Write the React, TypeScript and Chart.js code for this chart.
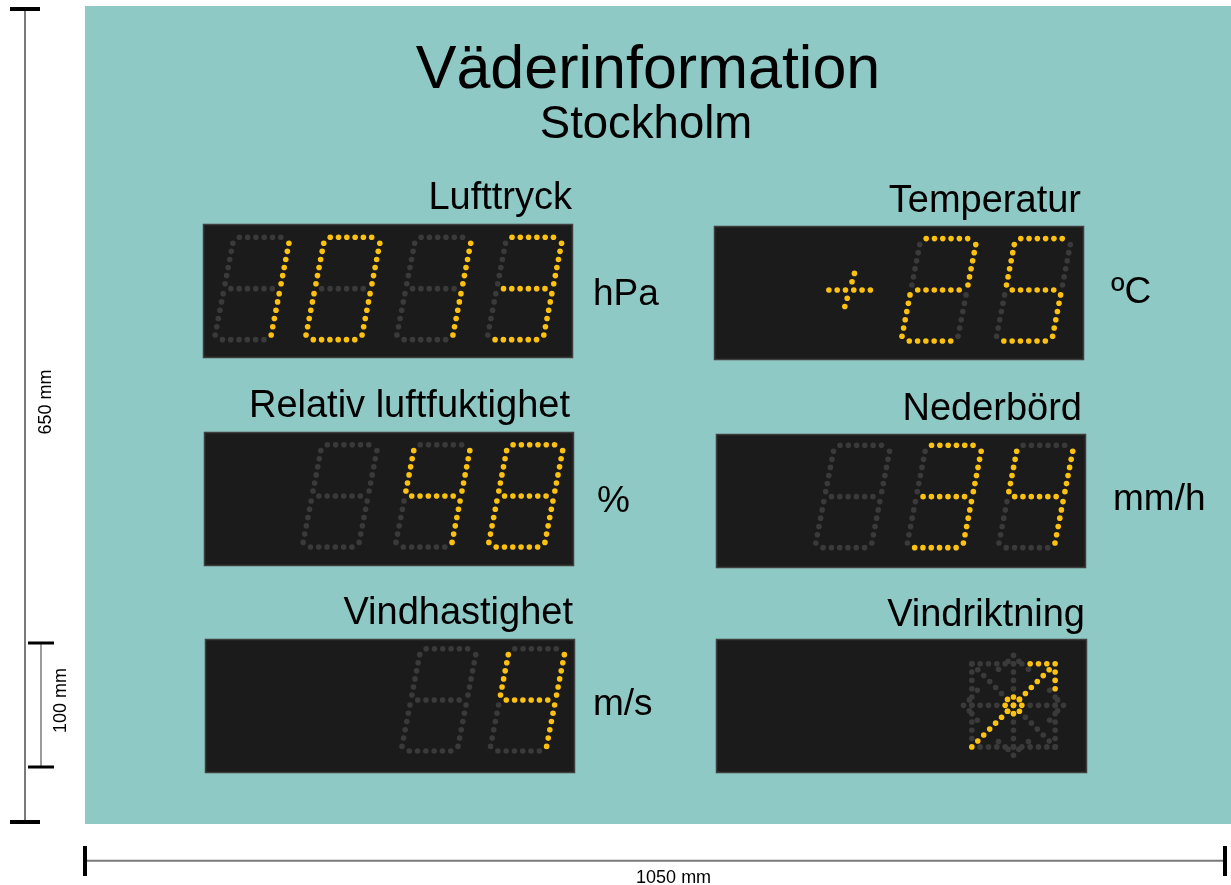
import React, { useEffect, useRef } from "react";
import { Chart, registerables } from "chart.js";

Chart.register(...registerables);

// ---------- data ----------
const titleText = "Väderinformation";
const subtitleText = "Stockholm";
const categories = ["Lufttryck", "Temperatur", "Relativ luftfuktighet", "Nederbörd", "Vindhastighet", "Vindriktning"];
const units = ["hPa", "ºC", "%", "mm/h", "m/s", ""];
const values = [1013, 25, 48, 34, 4, 45]; // last = wind direction in degrees (45 = NE)
const signs = ["", "+", "", "", "", ""];
const digitCells = [4, 2, 3, 3, 2, 0];
const dimensionLabels = ["650 mm", "100 mm", "1050 mm"];

// ---------- layout ----------
const W = 1231;
const H = 885;
const FONT = "'Liberation Sans', Arial, Helvetica, sans-serif";
const TEAL = "#8FC9C5";
const PANEL_BG = "#1B1B1B";
const LIT = "#FDC10F";
const DIM = "#3A3A3A";

type Panel = {
  box: [number, number, number, number];
  labelX: number;
  labelY: number;
  unitX: number;
  unitY: number;
  x0: number;
  step: number;
  base: number;
};

const layout: Panel[] = [
  { box: [203, 224, 573, 358], labelX: 572, labelY: 209, unitX: 593, unitY: 305, x0: 212.4, step: 91.3, base: 339 },
  { box: [714, 226, 1084, 360], labelX: 1081, labelY: 212, unitX: 1111, unitY: 303, x0: 902.4, step: 95, base: 340.3 },
  { box: [204, 432, 574, 566], labelX: 570, labelY: 417, unitX: 597, unitY: 512, x0: 300.8, step: 93.3, base: 547.7 },
  { box: [716, 434, 1086, 568], labelX: 1082, labelY: 420, unitX: 1113, unitY: 510, x0: 815.8, step: 92, base: 548.3 },
  { box: [205, 639, 575, 773], labelX: 573, labelY: 624, unitX: 593, unitY: 715, x0: 400.1, step: 89, base: 753 },
  { box: [716, 639, 1087, 773], labelX: 1085, labelY: 626, unitX: 1110, unitY: 715, x0: 1015.3, step: 8.37, base: 707 },
];

// ---------- dot-matrix font ----------
const P = 8.33; // dot pitch
const K = 0.193; // italic slant of verticals
const RW = 56.3; // distance between left and right columns
const SEG: Record<string, string> = {
  "0": "abcdef", "1": "bc", "2": "abdeg", "3": "abcdg", "4": "bcfg",
  "5": "acdfg", "6": "acdefg", "7": "abc", "8": "abcdefg", "9": "abcdfg", " ": "",
};

type Pt = { x: number; y: number };

function digitDots(x0: number, yB: number, ch: string, lit: Pt[], dim: Pt[]) {
  const on = SEG[ch] ?? "";
  const push = (seg: string, dx: number, dy: number) =>
    (on.includes(seg) ? lit : dim).push({ x: x0 + dx, y: yB - dy });
  const rows: [string, number][] = [["d", 0], ["g", 51.33], ["a", 103]];
  for (let i = 0; i < 6; i++) {
    for (const [seg, dy] of rows) push(seg, 8.23 + 0.165 * dy + i * P, dy);
    const lo = 4.67 + i * P;
    const hi = 56.33 + i * 8.13;
    push("e", K * lo, lo);
    push("f", K * hi, hi);
    push("c", RW + K * lo, lo);
    push("b", RW + K * hi, hi);
  }
}

function signDots(cx: number, cy: number, sign: string, lit: Pt[]) {
  if (sign !== "+" && sign !== "-") return;
  for (let i = 0; i < 6; i++) lit.push({ x: cx + (i - 2.5) * P, y: cy });
  if (sign === "+") {
    for (const k of [-2, -1, 1, 2]) lit.push({ x: cx + 0.29 * k * P, y: cy - k * P });
  }
}

function compassDots(cx: number, cy: number, q: number, deg: number, lit: Pt[], dim: Pt[]) {
  const L: [number, number][] = [];
  const D: [number, number][] = [];
  // background rose
  for (let k = -6; k <= 6; k++) { D.push([k, 0]); D.push([0, k]); }
  for (let k = -5; k <= 5; k++) { D.push([k, -5]); D.push([k, 5]); D.push([-5, k]); D.push([5, k]); }
  for (let t = -7; t <= 7; t++) { D.push([(t * 5) / 7, (t * 5) / 7]); D.push([(t * 5) / 7, (-t * 5) / 7]); }
  for (const [ux, uy] of [[1, 0], [-1, 0], [0, 1], [0, -1]]) {
    D.push([ux * 5.3 + uy * 0.65, uy * 5.3 + ux * 0.65]);
    D.push([ux * 5.3 - uy * 0.65, uy * 5.3 - ux * 0.65]);
  }
  for (let k = 0; k < 8; k++) {
    const a = ((22.5 + 45 * k) * Math.PI) / 180;
    D.push([4.7 * Math.cos(a), 4.7 * Math.sin(a)]);
  }
  // centre hub
  L.push([0, 0]);
  for (let k = 0; k < 8; k++) {
    const a = (45 * k * Math.PI) / 180;
    const r = k % 2 === 0 ? 1 : Math.SQRT2 * (5 / 7);
    L.push([r * Math.cos(a), r * Math.sin(a)]);
  }
  // arrow shaft + head
  const th = (deg * Math.PI) / 180;
  const ux = Math.cos(th), uy = Math.sin(th);
  const len = 5 * Math.SQRT2;
  for (let t = -7; t <= 7; t++) L.push([(ux * len * t) / 7, (uy * len * t) / 7]);
  const tip: [number, number] = [ux * len, uy * len];
  for (const off of [135, -135]) {
    const a = th + (off * Math.PI) / 180;
    for (let k = 1; k <= 3; k++) L.push([tip[0] + Math.cos(a) * k, tip[1] + Math.sin(a) * k]);
  }
  const near = (a: [number, number], b: [number, number]) => Math.hypot(a[0] - b[0], a[1] - b[1]) < 0.35;
  for (const d of D) if (!L.some((l) => near(l, d))) dim.push({ x: cx + d[0] * q, y: cy - d[1] * q });
  for (const l of L) lit.push({ x: cx + l[0] * q, y: cy - l[1] * q });
}

function buildDots() {
  const lit: Pt[] = [];
  const dim: Pt[] = [];
  layout.forEach((pl, i) => {
    if (digitCells[i] === 0) {
      compassDots(pl.x0, pl.base, pl.step, values[i], lit, dim);
      return;
    }
    const str = String(values[i]).padStart(digitCells[i], " ");
    for (let c = 0; c < digitCells[i]; c++) digitDots(pl.x0 + c * pl.step, pl.base, str[c], lit, dim);
    signDots(pl.x0 - 51.7, pl.base - 51.3, signs[i], lit);
  });
  return { lit, dim };
}

// ---------- static board drawing ----------
const boardPlugin = {
  id: "board",
  beforeDatasetsDraw(chart: Chart) {
    const ctx = chart.ctx;
    ctx.save();
    ctx.fillStyle = "#FFFFFF";
    ctx.fillRect(0, 0, W, H);
    ctx.fillStyle = TEAL;
    ctx.fillRect(85, 6, W - 85, 818);

    // displays
    layout.forEach((pl) => {
      const [x1, y1, x2, y2] = pl.box;
      ctx.fillStyle = PANEL_BG;
      ctx.fillRect(x1, y1, x2 - x1, y2 - y1);
      ctx.strokeStyle = "#3E3E3E";
      ctx.lineWidth = 1.5;
      ctx.strokeRect(x1 + 0.5, y1 + 0.5, x2 - x1 - 1, y2 - y1 - 1);
    });

    // titles
    ctx.fillStyle = "#000";
    ctx.textAlign = "center";
    ctx.textBaseline = "alphabetic";
    ctx.font = `61px ${FONT}`;
    ctx.fillText(titleText, 648, 88);
    ctx.font = `45.5px ${FONT}`;
    ctx.fillText(subtitleText, 646, 138);

    // labels & units
    layout.forEach((pl, i) => {
      ctx.font = `38px ${FONT}`;
      ctx.textAlign = "right";
      ctx.fillText(categories[i], pl.labelX, pl.labelY);
      if (units[i]) {
        ctx.font = `37px ${FONT}`;
        ctx.textAlign = "left";
        ctx.fillText(units[i], pl.unitX, pl.unitY);
      }
    });

    // dimension lines
    ctx.strokeStyle = "#7A7A7A";
    ctx.lineWidth = 2;
    ctx.beginPath();
    ctx.moveTo(25, 9); ctx.lineTo(25, 822);
    ctx.moveTo(85, 860.7); ctx.lineTo(1225, 860.7);
    ctx.stroke();
    ctx.lineWidth = 1.5;
    ctx.beginPath();
    ctx.moveTo(41, 643); ctx.lineTo(41, 767);
    ctx.stroke();
    ctx.fillStyle = "#000";
    ctx.fillRect(10, 7, 30, 4);
    ctx.fillRect(10, 820, 30, 4);
    ctx.fillRect(28, 641.5, 26, 3);
    ctx.fillRect(28, 765.5, 26, 3);
    ctx.fillRect(83, 846, 4, 30);
    ctx.fillRect(1223, 846, 4, 30);

    ctx.font = `18px ${FONT}`;
    ctx.textAlign = "center";
    ctx.textBaseline = "middle";
    ctx.save();
    ctx.translate(46, 402);
    ctx.rotate(-Math.PI / 2);
    ctx.fillText(dimensionLabels[0], 0, 0);
    ctx.restore();
    ctx.save();
    ctx.translate(61, 700.5);
    ctx.rotate(-Math.PI / 2);
    ctx.fillText(dimensionLabels[1], 0, 0);
    ctx.restore();
    ctx.textBaseline = "alphabetic";
    ctx.fillText(dimensionLabels[2], 673.6, 883);
    ctx.restore();
  },
};

export default function App() {
  const ref = useRef<HTMLCanvasElement | null>(null);
  useEffect(() => {
    if (!ref.current) return;
    const { lit, dim } = buildDots();
    const chart = new Chart(ref.current, {
      type: "scatter",
      data: {
        datasets: [
          {
            label: "lit",
            data: lit,
            order: 0,
            pointRadius: 2.8,
            pointHoverRadius: 2.8,
            pointBackgroundColor: LIT,
            backgroundColor: LIT,
            pointBorderWidth: 0,
            borderWidth: 0,
          },
          {
            label: "dim",
            data: dim,
            order: 1,
            pointRadius: 2.8,
            pointHoverRadius: 2.8,
            pointBackgroundColor: DIM,
            backgroundColor: DIM,
            pointBorderWidth: 0,
            borderWidth: 0,
          },
        ],
      },
      options: {
        animation: false,
        responsive: false,
        devicePixelRatio: 1,
        events: [],
        layout: { padding: 0 },
        plugins: { legend: { display: false }, tooltip: { enabled: false }, title: { display: false } },
        scales: {
          x: { type: "linear", display: false, min: 0, max: W },
          y: { type: "linear", display: false, min: 0, max: H, reverse: true },
        },
      },
      plugins: [boardPlugin],
    });
    return () => chart.destroy();
  }, []);
  return (
    <canvas
      ref={ref}
      width={W}
      height={H}
      style={{ position: "fixed", left: 0, top: 0, width: W, height: H, display: "block" }}
    />
  );
}
